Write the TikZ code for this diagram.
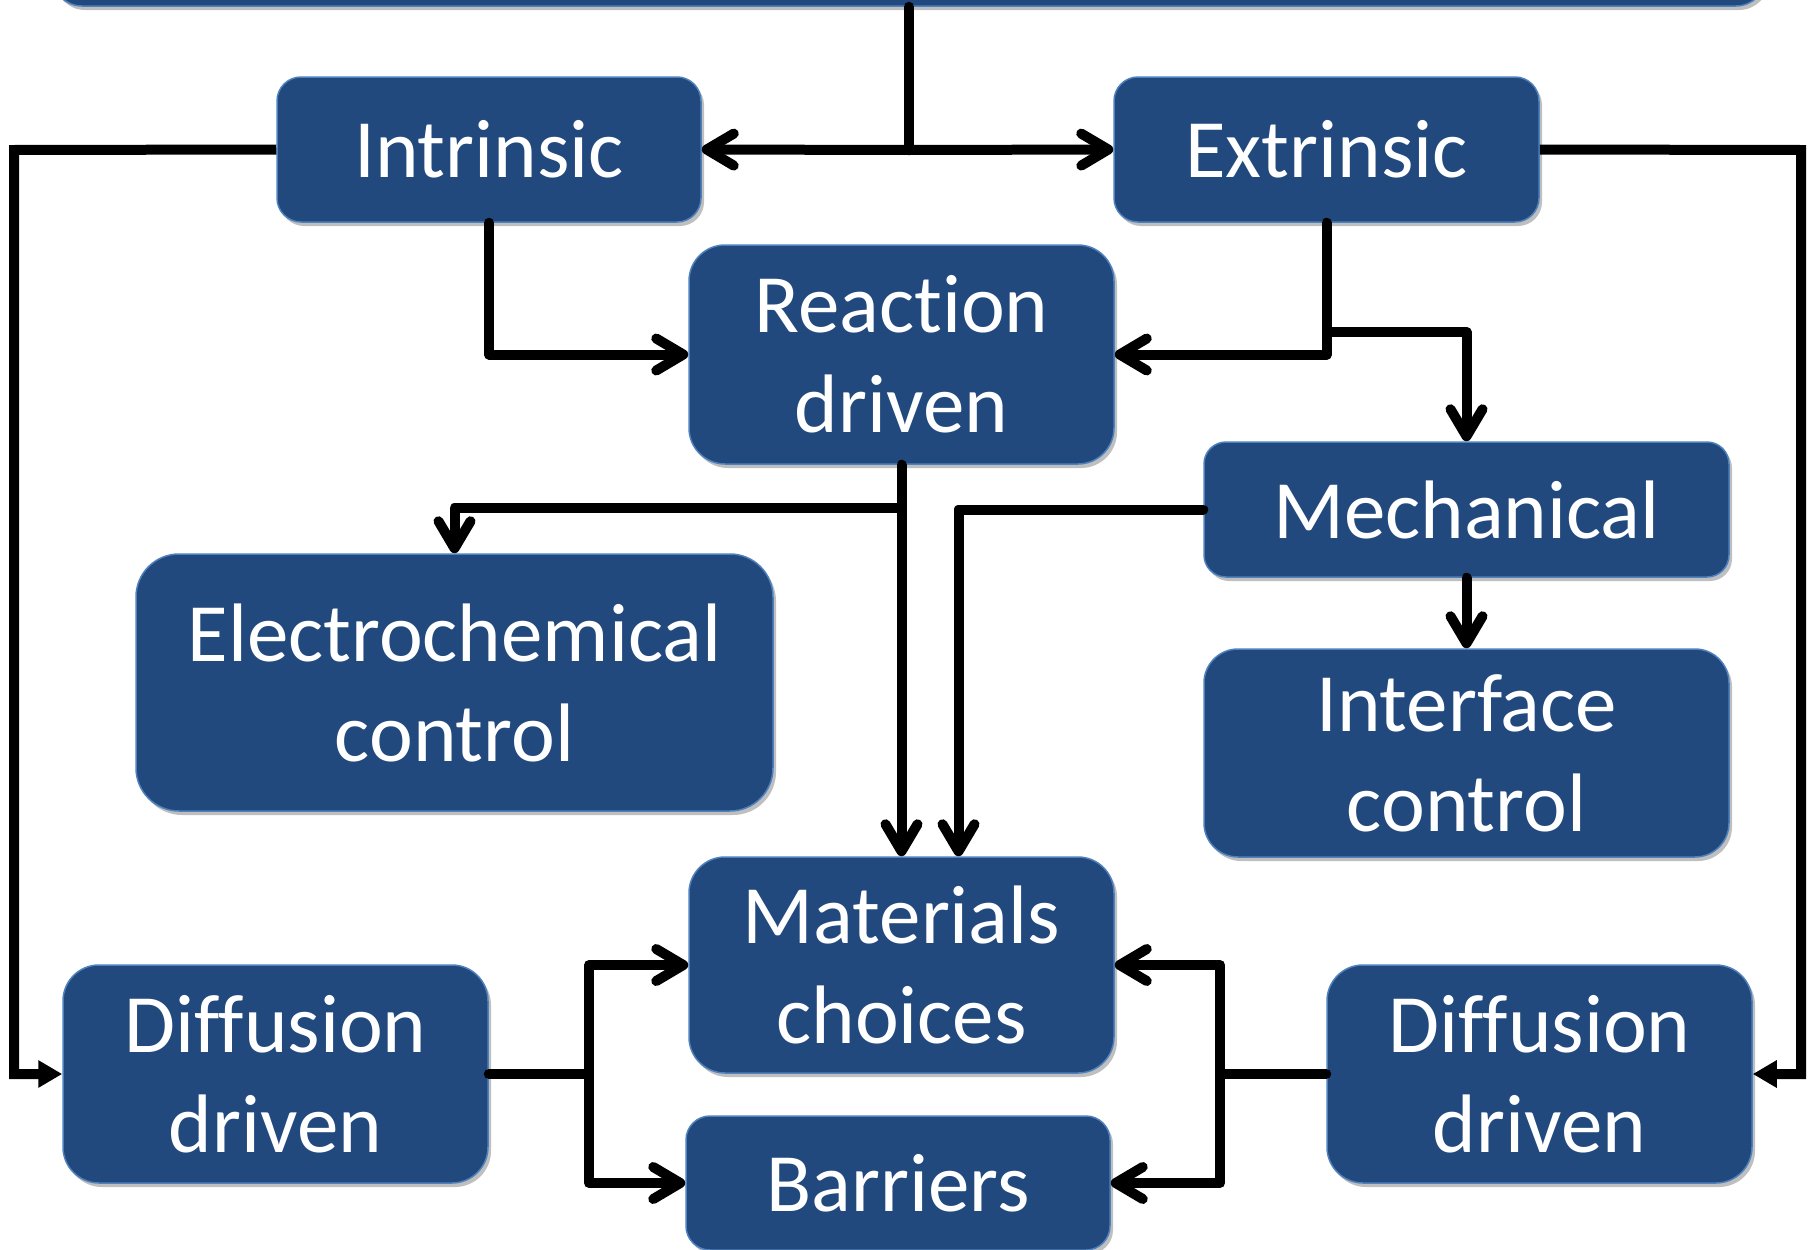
\documentclass[tikz,border=0pt]{standalone}
\usepackage{fontspec}
\setmainfont{Carlito}[Ligatures=NoCommon]
\usetikzlibrary{arrows.meta,shadows}
\definecolor{boxfill}{RGB}{33,73,125}
\definecolor{boxline}{RGB}{79,129,189}
\begin{document}
\begin{tikzpicture}[x=1pt,y=-1pt,
  box/.style={draw=boxline, line width=1.5pt, fill=boxfill, text=white, align=center,
    inner sep=0pt, font=\fontsize{83}{100}\selectfont,
    drop shadow={shadow xshift=3pt, shadow yshift=-4pt, opacity=0.25, fill=black}},
  conn/.style={line width=10pt, line cap=round, line join=round, draw=black},
  barb/.style={conn, -{Straight Barb[length=27pt,width=32pt,round]}},
  tri/.style={conn, line cap=butt, line join=miter, -{Triangle[length=24pt,width=26pt]}}]
\useasboundingbox (0,0) rectangle (1810,1250);

\node[box, minimum width=1714pt, minimum height=160pt, rounded corners=30pt] (top) at (909,-74) {};
\node[box, minimum width=424pt, minimum height=145pt, rounded corners=24pt] (intr) at (489,149.5) {Intrinsic};
\node[box, minimum width=425pt, minimum height=145pt, rounded corners=24pt] (extr) at (1326.5,149.5) {Extrinsic};
\node[box, minimum width=425pt, minimum height=219pt, rounded corners=36pt] (react) at (901.5,354.5) {Reaction\\driven};
\node[box, minimum width=525pt, minimum height=135pt, rounded corners=22pt] (mech) at (1466.5,509.5) {Mechanical};
\node[box, minimum width=525pt, minimum height=208pt, rounded corners=34pt] (iface) at (1466.5,753) {Interface\\control};
\node[box, minimum width=637pt, minimum height=257pt, rounded corners=43pt] (elec) at (454.5,682.5) {Electrochemical\\control};
\node[box, minimum width=425pt, minimum height=216pt, rounded corners=36pt] (mat) at (901.5,965) {Materials\\choices};
\node[box, minimum width=424pt, minimum height=134pt, rounded corners=24pt] (bar) at (898,1183) {Barriers};
\node[box, minimum width=425pt, minimum height=218pt, rounded corners=36pt] (diffL) at (275.5,1074) {Diffusion\\driven};
\node[box, minimum width=425pt, minimum height=218pt, rounded corners=36pt] (diffR) at (1539.5,1074) {Diffusion\\driven};

\coordinate (j1) at (909,150);
\coordinate (jX) at (1327,332);
\coordinate (jE) at (901.5,508);
\coordinate (cl) at (14,150);
\coordinate (cr) at (1801,150);
\coordinate (jL) at (589,1074);
\coordinate (jR) at (1220,1074);

\draw[conn] (top.south) -- (j1);
\draw[barb] (j1) -- (intr.east);
\draw[barb] (j1) -- (extr.west);
\draw[barb] (intr.south) |- (react.west);
\draw[barb] (extr.south) |- (react.east);
\draw[barb] (jX) -| (mech.north);
\draw[barb] (mech.south) -- (iface.north);
\draw[barb] (react.south) -- (mat.north);
\draw[barb] (jE) -| (elec.north);
\draw[barb] (mech.west) -| ([xshift=57pt]mat.north);
\draw[tri] (intr.west) -- (cl) |- (diffL.west);
\draw[tri] (extr.east) -- (cr) |- (diffR.east);
\draw[conn] (diffL.east) -- (jL);
\draw[barb] (jL) |- (mat.west);
\draw[barb] (jL) |- (bar.west);
\draw[conn] (diffR.west) -- (jR);
\draw[barb] (jR) |- (mat.east);
\draw[barb] (jR) |- (bar.east);
\end{tikzpicture}
\end{document}
